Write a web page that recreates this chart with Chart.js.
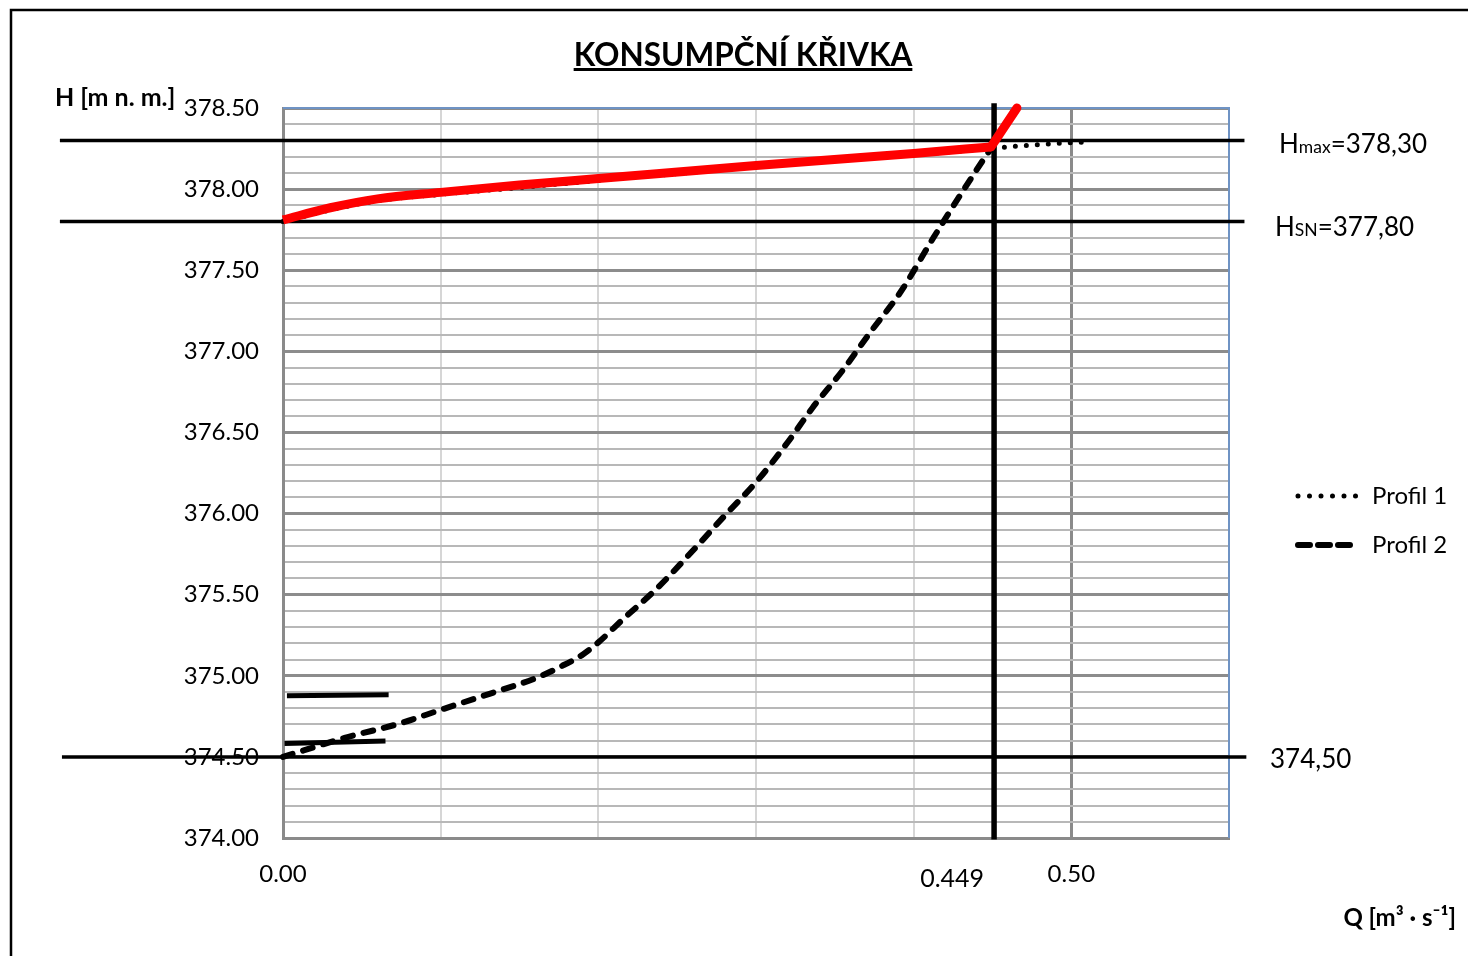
<!DOCTYPE html>
<html>
<head>
<meta charset="utf-8">
<script src="https://cdn.jsdelivr.net/npm/chart.js@4.4.1/dist/chart.umd.min.js"></script>
<style>
    html, body { margin: 0; padding: 0; background: #fff; }
    #wrap { width: 1468px; height: 956px; }
</style>
</head>
<body>
<div id="wrap"><canvas id="chart" width="1468" height="956"></canvas></div>
<script>
// Rating curve (red): smooth part, then steep part above Q = 0.449
const qRating = [0, 0.03, 0.06, 0.10, 0.15, 0.20, 0.30, 0.40, 0.449];
const hRating = [377.81, 377.885, 377.94, 377.98, 378.025, 378.065, 378.145, 378.22, 378.26];
const qRatingTop = [0.449, 0.4655];
const hRatingTop = [378.26, 378.50];

// Profil 1 (dotted)
const qProfil1 = [0, 0.03, 0.06, 0.10, 0.15, 0.20, 0.30, 0.40, 0.449, 0.46, 0.48, 0.508];
const hProfil1 = [377.80, 377.872, 377.928, 377.968, 378.01, 378.053, 378.138, 378.213, 378.25, 378.26, 378.275, 378.29];

// Profil 2 (dashed)
const qProfil2 = [0, 0.039, 0.074, 0.10, 0.131, 0.161, 0.176, 0.19, 0.20, 0.216, 0.237, 0.26, 0.279, 0.301, 0.32, 0.336, 0.355, 0.372, 0.392, 0.4125, 0.44, 0.449];
const hProfil2 = [374.50, 374.617, 374.706, 374.79, 374.889, 374.988, 375.056, 375.13, 375.206, 375.352, 375.537, 375.772, 375.975, 376.204, 376.438, 376.654, 376.883, 377.111, 377.37, 377.70, 378.12, 378.25];

// Reference levels and design discharge
const levelValues = [378.30, 377.80, 374.50];
const levelLabels = ['378,30', '377,80', '374,50'];
const levelQStart = [-0.1415, -0.1415, -0.1402];
const levelQEnd = [0.6098, 0.6098, 0.611];
const qDesign = 0.451;
const qDesignLabel = '0.449';
const hDesignRange = [373.99, 378.53];

// Short black marks near the bottom left
const markQ1 = [0.0025, 0.067];
const markH1 = [374.877, 374.883];
const markQ2 = [0.001, 0.065];
const markH2 = [374.582, 374.598];

// Axes
const qMin = 0, qMax = 0.6;
const hMin = 374.0, hMax = 378.5;
const qTickValues = [0, 0.1, 0.2, 0.3, 0.4, 0.5, 0.6];
const qLabelValues = [0, 0.5];
const hTickValues = [];
for (let i = 0; i <= 45; i++) hTickValues.push(+(hMin + i * 0.1).toFixed(1));
const hLabelValues = [374.0, 374.5, 375.0, 375.5, 376.0, 376.5, 377.0, 377.5, 378.0, 378.5];

const FONT = 'Lato, "Open Sans", sans-serif';

function pts(xs, ys) {
    return xs.map((x, i) => ({ x: x, y: ys[i] }));
}
function near(list, v) {
    return list.some(t => Math.abs(t - v) < 1e-6);
}

const lineDefaults = { showLine: true, pointRadius: 0, pointHoverRadius: 0, fill: false, clip: false };

const datasets = [
    {
        ...lineDefaults, label: 'rating', data: pts(qRating, hRating),
        borderColor: '#ff0000', borderWidth: 9, cubicInterpolationMode: 'monotone', borderCapStyle: 'butt'
    },
    {
        ...lineDefaults, label: 'ratingTop', data: pts(qRatingTop, hRatingTop),
        borderColor: '#ff0000', borderWidth: 9, tension: 0, borderCapStyle: 'round'
    },
    {
        ...lineDefaults, label: 'Profil 1', data: pts(qProfil1, hProfil1),
        borderColor: '#000', borderWidth: 5, borderDash: [0, 11], borderCapStyle: 'round',
        cubicInterpolationMode: 'monotone'
    },
    {
        ...lineDefaults, label: 'Profil 2', data: pts(qProfil2, hProfil2),
        borderColor: '#000', borderWidth: 6, borderDash: [10, 11], borderCapStyle: 'round',
        cubicInterpolationMode: 'monotone'
    },
    {
        ...lineDefaults, label: 'mark1', data: pts(markQ1, markH1), borderColor: '#000', borderWidth: 5
    },
    {
        ...lineDefaults, label: 'mark2', data: pts(markQ2, markH2), borderColor: '#000', borderWidth: 5
    },
    {
        ...lineDefaults, label: 'design', data: pts([qDesign, qDesign], hDesignRange), borderColor: '#000', borderWidth: 5.5
    }
];
levelValues.forEach((h, i) => {
    datasets.push({
        ...lineDefaults, label: 'level' + i,
        data: pts([levelQStart[i], levelQEnd[i]], [h, h]),
        borderColor: '#000', borderWidth: 3.5
    });
});

// Top and right frame of the plot area (blue)
const plotFrame = {
    id: 'plotFrame',
    beforeDatasetsDraw(chart) {
        const { ctx, chartArea: a } = chart;
        ctx.save();
        ctx.strokeStyle = '#6f93c4';
        ctx.lineWidth = 2;
        ctx.beginPath();
        ctx.moveTo(a.left, a.top);
        ctx.lineTo(a.right, a.top);
        ctx.lineTo(a.right, a.bottom);
        ctx.stroke();
        ctx.restore();
    }
};

// Title, axis titles, level labels, legend, outer frame
const decorations = {
    id: 'decorations',
    afterDraw(chart) {
        const { ctx } = chart;
        const xs = chart.scales.x, ys = chart.scales.y;
        ctx.save();

        // outer frame
        ctx.strokeStyle = '#000';
        ctx.lineWidth = 2.5;
        ctx.strokeRect(11, 10, 1600, 1100);

        ctx.fillStyle = '#000';
        ctx.textBaseline = 'alphabetic';

        // title, underlined
        ctx.font = 'bold 31.5px ' + FONT;
        ctx.textAlign = 'center';
        const title = 'KONSUMPČNÍ KŘIVKA';
        ctx.fillText(title, 743, 66);
        const tw = ctx.measureText(title).width;
        ctx.fillRect(743 - tw / 2, 68, tw, 3);

        // axis titles
        ctx.font = 'bold 25px ' + FONT;
        ctx.textAlign = 'left';
        ctx.fillText('H [m n. m.]', 55, 106);
        ctx.font = 'bold 24px ' + FONT;
        ctx.textAlign = 'right';
        ctx.fillText('Q [m³ · s⁻¹]', 1456, 926);

        // design discharge label
        ctx.font = '25px ' + FONT;
        ctx.textAlign = 'right';
        ctx.fillText(qDesignLabel, xs.getPixelForValue(qDesign) - 10, 887);

        // level labels
        const big = '26px ' + FONT, small = '17.5px ' + FONT;
        function mixed(x, y, parts) {
            ctx.textAlign = 'left';
            parts.forEach(p => {
                ctx.font = p[1] ? small : big;
                ctx.fillText(p[0], x, y);
                x += ctx.measureText(p[0]).width;
            });
        }
        mixed(1279, ys.getPixelForValue(levelValues[0]) + 13, [['H', 0], ['max', 1], ['=' + levelLabels[0], 0]]);
        mixed(1275, ys.getPixelForValue(levelValues[1]) + 14, [['H', 0], ['SN', 1], ['=' + levelLabels[1], 0]]);
        mixed(1270, ys.getPixelForValue(levelValues[2]) + 11, [[levelLabels[2], 0]]);

        // legend
        const legendRows = [[datasets[2], 496], [datasets[3], 545]];
        legendRows.forEach(([ds, y]) => {
            ctx.save();
            ctx.strokeStyle = ds.borderColor;
            ctx.lineWidth = ds.borderWidth;
            ctx.lineCap = ds.borderCapStyle;
            ctx.setLineDash(ds.label === 'Profil 1' ? [0, 11.5] : [12, 8]);
            ctx.beginPath();
            ctx.moveTo(1298, y);
            ctx.lineTo(1358, y);
            ctx.stroke();
            ctx.restore();
            ctx.font = '24px ' + FONT;
            ctx.textAlign = 'left';
            ctx.fillText(ds.label, 1372, y + 8);
        });

        ctx.restore();
    }
};

new Chart(document.getElementById('chart'), {
    type: 'scatter',
    data: { datasets: datasets },
    options: {
        responsive: false,
        animation: false,
        layout: { padding: { left: 0, right: 239, top: 108, bottom: 0 } },
        plugins: {
            legend: { display: false },
            tooltip: { enabled: false }
        },
        scales: {
            x: {
                type: 'linear',
                min: qMin,
                max: qMax,
                afterBuildTicks: s => { s.ticks = qTickValues.map(v => ({ value: v })); },
                afterFit: s => { s.height = 118; },
                ticks: {
                    autoSkip: false,
                    maxRotation: 0,
                    padding: 22,
                    color: '#000',
                    font: { family: FONT, size: 24 },
                    callback: v => near(qLabelValues, v) ? v.toFixed(2) : ''
                },
                grid: {
                    drawTicks: false,
                    color: c => (c.tick && near([0.5], c.tick.value)) ? '#8a8a8a' : '#d6d6d6',
                    lineWidth: c => (c.tick && near([0.5], c.tick.value)) ? 3 : 2
                },
                border: { color: '#8a8a8a', width: 3 }
            },
            y: {
                type: 'linear',
                min: hMin,
                max: hMax,
                afterBuildTicks: s => { s.ticks = hTickValues.map(v => ({ value: v })); },
                afterFit: s => { s.width = 283; },
                ticks: {
                    autoSkip: false,
                    padding: 24,
                    color: '#000',
                    font: { family: FONT, size: 24 },
                    callback: v => near(hLabelValues, v) ? v.toFixed(2) : ''
                },
                grid: {
                    drawTicks: false,
                    color: c => (c.tick && near(hLabelValues, c.tick.value)) ? '#8c8c8c' : '#b8b8b8',
                    lineWidth: c => (c.tick && near(hLabelValues, c.tick.value)) ? 3 : 2
                },
                border: { color: '#8a8a8a', width: 3 }
            }
        }
    },
    plugins: [plotFrame, decorations]
});
</script>
</body>
</html>
